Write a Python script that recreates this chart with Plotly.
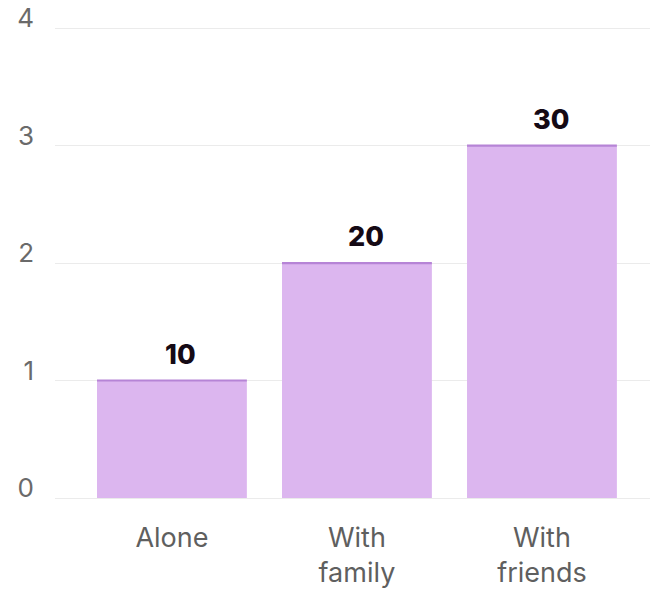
import plotly.graph_objects as go

categories = ["Alone", "With<br>family", "With<br>friends"]
values = [1, 2, 3]
labels = ["10", "20", "30"]
y_ticks = [0, 1, 2, 3, 4]

bar_color = "#dcb6ef"
edge_color = "#b684d6"

fig = go.Figure()
fig.add_trace(go.Bar(
    x=list(range(len(categories))), y=values, width=0.81,
    marker=dict(color=bar_color, line=dict(width=0)),
    hoverinfo="skip",
))
# thin darker top edge on each bar
fig.add_trace(go.Bar(
    x=list(range(len(categories))), y=[0.018] * len(values), base=[v - 0.009 for v in values],
    width=0.81, marker=dict(color=edge_color, line=dict(width=0)), hoverinfo="skip",
))

for i, (v, t) in enumerate(zip(values, labels)):
    fig.add_annotation(x=i, y=v, text=t, showarrow=False,
                       yanchor="bottom", yshift=8, xshift=9,
                       font=dict(family="Inter, Arial", size=27, color="#150a15", weight=800))

fig.update_layout(
    width=657, height=589,
    margin=dict(l=55, r=7, t=27, b=91),
    paper_bgcolor="white", plot_bgcolor="white",
    barmode="overlay", showlegend=False,
    font=dict(family="Inter, Liberation Sans, Arial", size=26, color="#666666"),
)
fig.update_xaxes(
    range=[-0.632, 2.584], tickvals=list(range(len(categories))), ticktext=categories,
    showgrid=False, zeroline=False, showline=False, ticks="",
    tickfont=dict(size=27, color="#5f5f5f"), ticklabelstandoff=21,
    automargin=False, ticklabeloverflow="allow",
)
fig.update_yaxes(
    range=[0, 4.01], tickvals=y_ticks, showgrid=True, gridcolor="#ebebeb", gridwidth=1,
    zeroline=True, zerolinecolor="#ebebeb", zerolinewidth=1, showline=False, ticks="",
    tickfont=dict(size=26, color="#6a6a6a"), ticklabelstandoff=20, ticklabelshift=-10,
    automargin=False, ticklabeloverflow="allow",
)

fig.write_html("out.html", config={"displayModeBar": False},
               post_script="document.body.style.margin='0';")
